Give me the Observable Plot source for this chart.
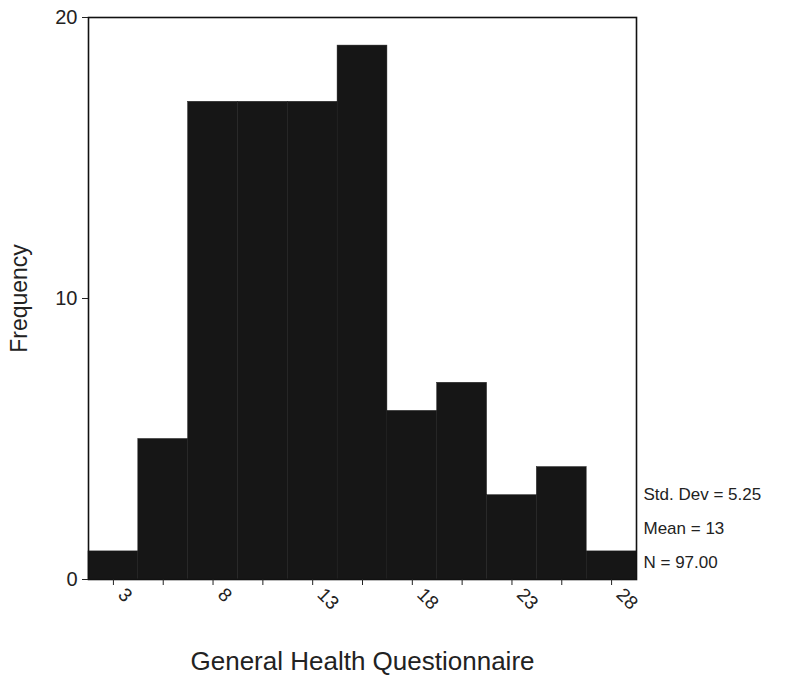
<!DOCTYPE html>
<html>
<head>
<meta charset="utf-8">
<script src="https://cdn.jsdelivr.net/npm/d3@7"></script>
<script src="https://cdn.jsdelivr.net/npm/@observablehq/plot@0.6"></script>
<style>
  html, body { margin: 0; padding: 0; background: #fff; }
  #chart svg { display: block; }
</style>
</head>
<body>
<div id="chart"></div>
<script>
// Histogram of General Health Questionnaire scores (bin width 2.5)
const binCenters = [3, 5.5, 8, 10.5, 13, 15.5, 18, 20.5, 23, 25.5, 28];
const counts = [1, 5, 17, 17, 17, 19, 6, 7, 3, 4, 1];
const binWidth = 2.5;
const xTickLabels = [3, 8, 13, 18, 23, 28];
const yTicks = [0, 10, 20];
const statsLines = ["Std. Dev = 5.25", "Mean = 13", "N = 97.00"];

const bins = binCenters.map((c, i) => ({x1: c - binWidth / 2, x2: c + binWidth / 2, count: counts[i]}));

const font = "'Liberation Sans', Arial, Helvetica, sans-serif";

const chart = Plot.plot({
  width: 791,
  height: 682,
  marginLeft: 88,
  marginRight: 155,
  marginTop: 17,
  marginBottom: 103,
  style: {fontFamily: font, fontSize: "18px", color: "#222", background: "#fff"},
  x: {domain: [binCenters[0] - binWidth / 2, binCenters[binCenters.length - 1] + binWidth / 2]},
  y: {domain: [0, 20]},
  marks: [
    Plot.rectY(bins, {x1: "x1", x2: "x2", y: "count", fill: "#161616", stroke: "#1f1f1f", strokeWidth: 0.5}),
    Plot.frame({stroke: "#111", strokeWidth: 1.6}),
    Plot.axisY({
      ticks: yTicks, tickSize: 6, tickPadding: 5, fontSize: 20,
      label: null
    }),
    Plot.text(["Frequency"], {
      frameAnchor: "left", textAnchor: "middle", rotate: -90, dx: -69, fontSize: 23, fill: "#222"
    }),
    // tick marks at every bin centre
    Plot.axisX({
      ticks: binCenters, tickSize: 6, tickFormat: () => "", label: null
    }),
    // rotated labels on every other tick
    Plot.axisX({
      ticks: xTickLabels, tickSize: 0, tickPadding: 10, tickRotate: 45, fontSize: 19,
      dx: 8, dy: 2,
      tickFormat: d => String(d),
      label: null
    }),
    Plot.text(["General Health Questionnaire"], {
      frameAnchor: "bottom", dy: 90, fontSize: 26, fill: "#222"
    }),
    Plot.text([statsLines.join("\n")], {
      frameAnchor: "bottom-right", textAnchor: "start", lineAnchor: "bottom",
      lineHeight: 2, dx: 7, dy: -12, fontSize: 17, fill: "#222"
    })
  ]
});

document.getElementById("chart").appendChild(chart);
</script>
</body>
</html>
